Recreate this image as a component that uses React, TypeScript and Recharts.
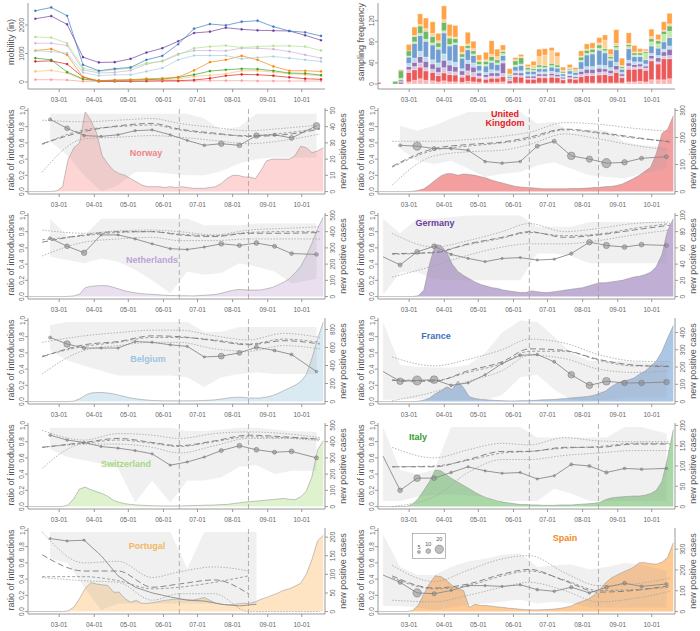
import React from 'react';
import { Area, Bar, ComposedChart, Line, ReferenceLine, XAxis, YAxis } from 'recharts';

// ---- shared axis data ----
const monthTicks = [60, 91, 121, 152, 182, 213, 244, 274];
const monthLabels = ['03-01', '04-01', '05-01', '06-01', '07-01', '08-01', '09-01', '10-01'];
const X_DOMAIN: [number, number] = [32.5, 294.5];
const ratioTicks = [0, 0.2, 0.4, 0.6, 0.8, 1.0];

// ---- mobility (top left) ----
const mobDays = [39, 53, 67, 81, 95, 109, 123, 137, 151, 165, 179, 193, 207, 221, 235, 249, 263, 277, 291];
const mobFR = [2500, 2616, 2325, 605, 395, 465, 512, 779, 919, 1326, 1872, 2035, 1988, 2116, 2151, 1942, 1791, 1744, 1616];
const mobDE = [2221, 2314, 2023, 872, 686, 698, 814, 1035, 1186, 1430, 1721, 1767, 1907, 1849, 1814, 1802, 1791, 1640, 1465];
const mobCH = [1581, 1558, 1360, 488, 372, 430, 488, 663, 721, 953, 1186, 1244, 1279, 1209, 1244, 1267, 1267, 1244, 1105];
const mobNL = [1360, 1360, 1279, 430, 314, 337, 407, 628, 744, 988, 1105, 1105, 1093, 1186, 1186, 1151, 1070, 953, 837];
const mobBE = [1093, 1070, 1012, 337, 221, 256, 256, 372, 488, 779, 930, 930, 930, 814, 860, 895, 837, 779, 721];
const mobES = [1105, 1163, 953, 174, 47, 70, 81, 116, 128, 174, 407, 698, 779, 919, 779, 547, 395, 395, 372];
const mobIT = [837, 779, 350, 105, 47, 58, 70, 81, 105, 163, 256, 384, 430, 465, 453, 395, 314, 302, 244];
const mobPT = [372, 407, 314, 81, 47, 47, 58, 81, 81, 105, 198, 233, 291, 395, 395, 349, 291, 256, 221];
const mobUK = [721, 744, 628, 174, 23, 23, 23, 35, 47, 47, 70, 128, 221, 267, 256, 221, 163, 116, 93];
const mobNO = [81, 81, 70, 23, 23, 23, 23, 23, 23, 23, 35, 47, 47, 47, 35, 35, 35, 35, 35];

// ---- sampling frequency (top right) ----
const barDays = [33, 48, 53, 60, 65, 70, 75, 81, 86, 91, 96, 101, 107, 112, 117, 122, 128, 133, 138, 143, 149, 154, 159, 165, 170, 175, 180, 186, 191, 196, 202, 207, 212, 217, 222, 228, 233, 238, 243, 248, 254, 259, 264, 269, 274, 280, 285, 290];
const sampES = [0, 0, 2, 12, 16, 20, 20, 22, 14, 26, 22, 22, 12, 22, 14, 10, 14, 26, 14, 10, 10, 4, 4, 4, 8, 14, 12, 6, 8, 6, 6, 4, 10, 10, 10, 10, 10, 10, 26, 14, 20, 12, 6, 3, 14, 10, 16, 20];
const sampPT = [0, 0, 0, 0, 2, 3, 5, 6, 4, 5, 4, 3, 3, 3, 4, 2, 3, 4, 6, 2, 1, 2, 2, 2, 6, 16, 20, 24, 16, 2, 2, 1, 2, 2, 2, 4, 16, 4, 4, 2, 2, 2, 2, 2, 4, 2, 2, 4];
const sampIT = [0, 5, 14, 10, 10, 14, 15, 12, 8, 16, 12, 8, 6, 5, 6, 6, 6, 8, 6, 4, 2, 8, 12, 4, 3, 4, 4, 4, 4, 3, 2, 2, 6, 6, 6, 6, 4, 4, 4, 3, 4, 4, 4, 3, 6, 6, 6, 10];
const sampCH = [0, 0, 3, 2, 3, 4, 4, 4, 4, 4, 3, 3, 2, 3, 3, 2, 3, 3, 3, 4, 2, 3, 3, 3, 2, 3, 2, 3, 2, 2, 2, 2, 3, 3, 3, 4, 4, 3, 4, 2, 4, 3, 3, 12, 8, 8, 14, 12];
const sampFR = [0, 0, 3, 12, 28, 30, 30, 28, 26, 40, 28, 34, 20, 20, 14, 10, 12, 14, 12, 10, 3, 8, 10, 6, 6, 6, 6, 8, 8, 4, 6, 5, 14, 22, 24, 28, 24, 14, 24, 6, 22, 10, 10, 8, 14, 14, 14, 16];
const sampBE = [0, 0, 0, 6, 8, 10, 8, 8, 8, 12, 8, 8, 4, 6, 8, 4, 4, 6, 4, 4, 2, 4, 4, 3, 3, 4, 4, 4, 4, 2, 3, 3, 4, 5, 5, 6, 6, 5, 6, 3, 5, 5, 4, 4, 4, 4, 5, 6];
const sampDE = [0, 0, 2, 6, 8, 12, 12, 10, 10, 14, 12, 10, 8, 14, 10, 6, 5, 6, 6, 20, 2, 4, 5, 4, 4, 4, 4, 4, 4, 3, 4, 3, 6, 8, 8, 8, 6, 6, 8, 4, 6, 5, 5, 4, 6, 8, 8, 12];
const sampNL = [0, 0, 0, 5, 6, 8, 6, 6, 6, 10, 6, 6, 4, 8, 8, 4, 4, 4, 4, 6, 1, 3, 3, 2, 2, 3, 3, 3, 2, 2, 2, 2, 4, 4, 4, 5, 5, 4, 5, 3, 6, 4, 4, 4, 4, 4, 5, 6];
const sampUK = [3, 0, 3, 18, 20, 22, 18, 16, 12, 15, 14, 13, 10, 12, 10, 8, 7, 8, 8, 10, 5, 12, 11, 8, 8, 10, 10, 11, 10, 7, 8, 8, 12, 14, 14, 15, 16, 14, 20, 10, 24, 24, 24, 22, 36, 30, 40, 38];
const sampNO = [0, 0, 0, 4, 7, 10, 7, 6, 4, 6, 4, 4, 3, 5, 4, 3, 2, 3, 3, 4, 1, 2, 2, 1, 1, 2, 2, 2, 2, 1, 2, 1, 2, 2, 2, 2, 2, 2, 2, 2, 4, 4, 5, 4, 8, 8, 8, 10];

// ---- new positive cases (every 5 days) ----
const caseDays = [33, 38, 43, 48, 53, 58, 63, 68, 73, 78, 83, 88, 93, 98, 103, 108, 113, 118, 123, 128, 133, 138, 143, 148, 153, 158, 163, 168, 173, 178, 183, 188, 193, 198, 203, 208, 213, 218, 223, 228, 233, 238, 243, 248, 253, 258, 263, 268, 273, 278, 283, 288, 293];
const casesNO = [0, 0, 0, 0, 0, 0.5, 3, 20, 27, 30, 49, 44, 36, 22, 17, 13, 11, 10, 8, 6, 4, 3, 3, 3, 2.5, 3, 2.5, 3, 2.5, 2, 2, 2, 2.5, 3, 5, 8, 10, 10, 9, 9, 8, 13, 19, 20, 20, 20, 20, 22, 28, 27, 24, 25, 27];
const casesUK = [0, 0, 0, 0, 0, 0, 1, 4, 10, 25, 42, 58, 66, 66, 60, 65, 63, 60, 55, 50, 42, 36, 31, 25, 20, 17, 15, 14, 12, 10, 10, 10, 10, 10, 11, 11, 12, 13, 15, 16, 18, 19, 22, 28, 38, 48, 60, 75, 90, 140, 215, 230, 280];
const casesNL = [0, 0, 0, 0, 0, 0, 0, 1, 4, 15, 55, 63, 66, 68, 66, 57, 46, 35, 28, 22, 18, 15, 13, 11, 8, 7, 6, 5, 5, 4, 6, 8, 10, 13, 20, 30, 38, 44, 42, 40, 40, 41, 48, 56, 72, 88, 110, 145, 185, 250, 330, 420, 490];
const casesDE = [0, 0, 0, 0, 0, 0, 0, 1, 8, 40, 64, 63, 55, 40, 31, 26, 22, 18, 15, 13, 11, 10, 8, 7, 6, 5, 5, 7, 6, 5, 5, 6, 7, 8, 9, 10, 11, 13, 15, 17, 17, 18, 19, 20, 22, 24, 25, 27, 30, 37, 52, 82, 96];
const casesBE = [0, 0, 0, 0, 0, 0, 0, 0, 5, 30, 70, 95, 100, 100, 95, 85, 70, 55, 40, 30, 22, 16, 12, 10, 8, 8, 8, 8, 8, 9, 10, 12, 15, 20, 28, 38, 45, 48, 45, 40, 38, 40, 50, 65, 90, 120, 150, 180, 220, 300, 480, 700, 880];
const casesFR = [0, 0, 0, 0, 0, 0, 0, 2, 8, 20, 45, 62, 85, 70, 118, 80, 28, 18, 12, 10, 8, 6, 5, 4, 4, 5, 5, 6, 8, 10, 11, 12, 15, 18, 21, 24, 26, 30, 36, 48, 60, 85, 105, 118, 125, 135, 158, 175, 205, 235, 290, 368, 440];
const casesCH = [0, 0, 0, 0, 0, 0, 1, 10, 50, 108, 120, 103, 92, 80, 63, 38, 26, 18, 13, 10, 8, 6, 5, 4, 4, 4, 4, 4, 5, 6, 7, 8, 9, 10, 12, 13, 18, 22, 27, 30, 33, 36, 40, 43, 46, 50, 45, 42, 60, 95, 185, 350, 405];
const casesIT = [0, 0, 0, 0, 0, 0, 6, 20, 40, 62, 90, 88, 78, 68, 60, 52, 44, 35, 28, 22, 18, 14, 11, 9, 7, 5, 5, 4, 4, 3, 3, 3, 4, 4, 4, 5, 6, 7, 8, 10, 17, 21, 23, 24, 25, 26, 26, 28, 32, 40, 62, 120, 190];
const casesPT = [0, 0, 0, 0, 0, 0, 0, 2, 12, 35, 62, 78, 74, 72, 70, 52, 52, 35, 25, 30, 22, 22, 24, 27, 30, 32, 34, 33, 32, 31, 34, 38, 30, 23, 20, 18, 19, 21, 22, 22, 26, 33, 38, 44, 50, 57, 61, 68, 76, 100, 140, 190, 205];
const casesES = [0, 0, 0, 0, 0, 0, 5, 30, 85, 135, 172, 168, 150, 125, 110, 101, 20, 35, 29, 29, 26, 22, 20, 16, 14, 11, 9, 8, 8, 9, 10, 12, 15, 20, 27, 40, 50, 60, 78, 105, 137, 160, 175, 188, 200, 213, 235, 235, 230, 228, 237, 260, 330];

// ---- ratio of introductions, half-monthly ----
const halfMonthDays = [52, 67, 82, 97, 112, 127, 142, 158, 173, 188, 203, 219, 234, 250, 265, 287];
const halfMonthDaysEarly = [37, 52, 67, 82, 97, 112, 127, 142, 158, 173, 188, 203, 219, 234, 250, 265, 287];
const halfMonthDaysPT = [52, 67, 82, 97, 112, 127, 142, 158, 173, 188, 203, 219, 234];
const trendDays = [45, 82, 112, 142, 166, 197, 227, 258, 290];

const ratioNO = [0.89, 0.78, 0.69, 0.68, 0.7, 0.75, 0.76, 0.7, 0.63, 0.57, 0.59, 0.57, 0.69, 0.7, 0.66, 0.81];
const seqNO = [5, 10, 4, 3, 3, 3, 3, 3, 3, 4, 12, 10, 12, 6, 10, 15];
const bandHiNO = [0.96, 0.96, 0.96, 0.96, 0.96, 0.96, 0.96, 0.96, 0.96, 0.9, 0.76, 0.8, 0.96, 0.96, 0.96, 0.96];
const bandLoNO = [0.62, 0.45, 0.2, 0.0, 0.08, 0.24, 0.24, 0.22, 0.2, 0.2, 0.25, 0.35, 0.4, 0.42, 0.42, 0.42];
const fitNO = [0.59, 0.74, 0.81, 0.84, 0.77, 0.72, 0.68, 0.7, 0.77];
const fit2NO = [0.58, 0.76, 0.8, 0.82, 0.76, 0.71, 0.69, 0.72, 0.78];
const ciHiNO = [0.88, 0.86, 0.88, 0.9, 0.84, 0.79, 0.75, 0.78, 0.82];
const ciLoNO = [0.24, 0.65, 0.67, 0.69, 0.67, 0.63, 0.59, 0.63, 0.71];

const ratioUK = [0.57, 0.56, 0.53, 0.53, 0.51, 0.37, 0.35, 0.37, 0.56, 0.62, 0.44, 0.4, 0.35, 0.36, 0.41, 0.43];
const seqUK = [5, 20, 8, 4, 4, 4, 4, 4, 8, 8, 18, 14, 22, 12, 8, 8];
const bandHiUK = [0.81, 0.75, 0.81, 0.9, 0.98, 0.98, 0.98, 0.98, 0.84, 0.86, 0.73, 0.77, 0.75, 0.61, 0.57, 0.55];
const bandLoUK = [0.53, 0.38, 0.34, 0.38, 0.28, 0.18, 0.22, 0.24, 0.32, 0.36, 0.28, 0.2, 0.18, 0.16, 0.22, 0.28];
const fitUK = [0.31, 0.53, 0.58, 0.61, 0.67, 0.77, 0.73, 0.67, 0.61];
const fit2UK = [0.3, 0.51, 0.56, 0.6, 0.65, 0.76, 0.72, 0.66, 0.62];
const ciHiUK = [0.62, 0.62, 0.64, 0.68, 0.73, 0.85, 0.83, 0.78, 0.74];
const ciLoUK = [0.08, 0.44, 0.49, 0.51, 0.58, 0.71, 0.65, 0.57, 0.51];

const ratioNL = [0.72, 0.62, 0.54, 0.76, 0.76, 0.71, 0.65, 0.59, 0.58, 0.61, 0.65, 0.63, 0.66, 0.62, 0.53, 0.52];
const seqNL = [5, 10, 12, 3, 3, 3, 3, 3, 3, 3, 10, 8, 10, 8, 7, 7];
const bandHiNL = [0.96, 0.75, 0.75, 0.96, 0.96, 0.96, 0.96, 0.96, 0.96, 0.88, 0.88, 0.88, 0.9, 0.9, 0.9, 0.9];
const bandLoNL = [0.49, 0.45, 0.41, 0.47, 0.43, 0.33, 0.2, 0.04, 0.31, 0.27, 0.29, 0.41, 0.37, 0.31, 0.16, 0.22];
const fitNL = [0.67, 0.76, 0.8, 0.8, 0.76, 0.74, 0.78, 0.78, 0.79];
const fit2NL = [0.7, 0.75, 0.79, 0.8, 0.77, 0.75, 0.79, 0.8, 0.8];
const ciHiNL = [0.82, 0.78, 0.81, 0.82, 0.8, 0.76, 0.82, 0.84, 0.86];
const ciLoNL = [0.5, 0.67, 0.71, 0.73, 0.69, 0.69, 0.71, 0.71, 0.71];

const ratioDE = [0.49, 0.39, 0.55, 0.62, 0.52, 0.47, 0.43, 0.47, 0.48, 0.45, 0.46, 0.53, 0.67, 0.63, 0.61, 0.64, 0.63];
const seqDE = [0, 8, 10, 10, 4, 3, 3, 3, 3, 3, 3, 6, 12, 14, 10, 10, 8];
const bandHiDE = [0.96, 0.78, 0.96, 0.96, 0.98, 1.0, 1.0, 1.0, 1.0, 0.86, 0.86, 0.86, 0.92, 0.92, 0.92, 0.92, 0.92];
const bandLoDE = [0.02, 0.3, 0.3, 0.22, 0.2, 0.2, 0.2, 0.2, 0.2, 0.53, 0.53, 0.5, 0.41, 0.41, 0.41, 0.41, 0.41];
const fitDE = [0.53, 0.54, 0.65, 0.73, 0.8, 0.73, 0.76, 0.82, 0.88];
const fit2DE = [0.52, 0.55, 0.64, 0.72, 0.79, 0.75, 0.77, 0.84, 0.9];
const ciHiDE = [0.78, 0.61, 0.69, 0.8, 0.9, 0.8, 0.84, 0.9, 0.92];
const ciLoDE = [0.24, 0.38, 0.51, 0.61, 0.65, 0.65, 0.69, 0.76, 0.82];

const ratioBE = [0.79, 0.71, 0.66, 0.66, 0.66, 0.74, 0.73, 0.7, 0.68, 0.55, 0.56, 0.6, 0.67, 0.63, 0.58, 0.37];
const seqBE = [5, 15, 6, 3, 3, 3, 3, 3, 3, 3, 13, 10, 8, 5, 5, 4];
const bandHiBE = [0.94, 0.98, 0.98, 0.98, 0.98, 0.98, 0.98, 0.98, 0.98, 0.86, 0.86, 0.92, 0.92, 0.92, 0.92, 0.92];
const bandLoBE = [0.63, 0.51, 0.44, 0.38, 0.32, 0.32, 0.32, 0.32, 0.3, 0.18, 0.3, 0.34, 0.36, 0.34, 0.34, 0.34];
const fitBE = [0.55, 0.7, 0.74, 0.81, 0.8, 0.75, 0.7, 0.75, 0.71];
const fit2BE = [0.56, 0.68, 0.73, 0.79, 0.79, 0.76, 0.71, 0.77, 0.73];
const ciHiBE = [0.73, 0.81, 0.85, 0.88, 0.88, 0.81, 0.76, 0.84, 0.79];
const ciLoBE = [0.34, 0.63, 0.69, 0.73, 0.73, 0.65, 0.62, 0.69, 0.65];

const ratioFR = [0.37, 0.25, 0.26, 0.27, 0.2, 0.23, 0.33, 0.47, 0.57, 0.58, 0.49, 0.33, 0.2, 0.25, 0.23, 0.23, 0.24];
const seqFR = [0, 15, 22, 18, 4, 3, 3, 3, 4, 4, 5, 15, 15, 18, 12, 12, 12];
const bandHiFR = [0.98, 0.45, 0.43, 0.42, 0.42, 0.45, 0.6, 0.85, 1.0, 0.98, 0.8, 0.6, 0.5, 0.5, 0.5, 0.48, 0.47];
const bandLoFR = [0.02, 0.03, 0.03, 0.02, 0.02, 0.02, 0.02, 0.08, 0.3, 0.33, 0.15, 0.02, 0.02, 0.02, 0.05, 0.05, 0.05];
const fitFR = [0.26, 0.25, 0.38, 0.49, 0.65, 0.63, 0.52, 0.45, 0.43];
const fit2FR = [0.27, 0.26, 0.36, 0.47, 0.62, 0.62, 0.51, 0.44, 0.44];
const ciHiFR = [0.55, 0.44, 0.52, 0.64, 0.77, 0.72, 0.58, 0.5, 0.49];
const ciLoFR = [0.01, 0.12, 0.25, 0.38, 0.57, 0.53, 0.4, 0.36, 0.38];

const ratioCH = [0.88, 0.82, 0.79, 0.74, 0.72, 0.69, 0.65, 0.51, 0.55, 0.61, 0.69, 0.75, 0.7, 0.67, 0.68, 0.6];
const seqCH = [4, 4, 4, 3, 3, 3, 3, 3, 3, 3, 8, 10, 10, 8, 10, 8];
const bandHiCH = [0.97, 0.97, 0.97, 0.97, 0.97, 0.97, 0.97, 0.97, 0.93, 0.93, 0.95, 0.97, 0.97, 0.95, 0.93, 0.92];
const bandLoCH = [0.71, 0.61, 0.57, 0.53, 0.47, 0.05, 0.32, 0.05, 0.32, 0.32, 0.36, 0.49, 0.51, 0.4, 0.44, 0.44];
const fitCH = [0.73, 0.79, 0.84, 0.79, 0.75, 0.81, 0.88, 0.86, 0.83];
const fit2CH = [0.73, 0.78, 0.82, 0.78, 0.74, 0.8, 0.86, 0.85, 0.83];
const ciHiCH = [0.94, 0.82, 0.9, 0.88, 0.84, 0.9, 0.92, 0.9, 0.85];
const ciLoCH = [0.47, 0.77, 0.77, 0.73, 0.66, 0.75, 0.84, 0.84, 0.81];

const ratioIT = [0.62, 0.2, 0.35, 0.35, 0.42, 0.49, 0.44, 0.41, 0.42, 0.34, 0.38, 0.52, 0.5, 0.42, 0.47, 0.46, 0.47];
const seqIT = [0, 10, 15, 10, 4, 3, 3, 3, 3, 3, 3, 5, 5, 6, 4, 4, 4];
const bandHiIT = [0.98, 0.45, 0.4, 0.45, 0.98, 0.98, 0.98, 0.98, 0.98, 0.85, 0.85, 0.85, 0.85, 0.85, 0.98, 0.98, 0.9];
const bandLoIT = [0.07, 0.07, 0.12, 0.14, 0.15, 0.14, 0.12, 0.07, 0.07, 0.07, 0.22, 0.16, 0.07, 0.07, 0.07, 0.07, 0.07];
const fitIT = [0.49, 0.49, 0.58, 0.68, 0.68, 0.73, 0.73, 0.77, 0.77];
const fit2IT = [0.49, 0.5, 0.57, 0.66, 0.68, 0.72, 0.74, 0.78, 0.78];
const ciHiIT = [0.73, 0.6, 0.7, 0.78, 0.76, 0.85, 0.81, 0.8, 0.8];
const ciLoIT = [0.0, 0.12, 0.42, 0.58, 0.58, 0.63, 0.66, 0.69, 0.69];

const ratioPT = [0.9, 0.87, 0.88, 0.69, 0.44, 0.3, 0.23, 0.18, 0.14, 0.13, 0.09, 0.07, 0.09];
const seqPT = [3, 3, 3, 0, 0, 0, 0, 0, 0, 0, 0, 0, 0];
const bandHiPT = [0.98, 0.98, 0.98, 0.98, 0.98, 0.98, 0.98, 0.98, 0.53, 0.98, 0.98, 0.98, 0.98];
const bandLoPT = [0.65, 0.6, 0.3, 0.02, 0.1, 0.1, 0.1, 0.1, 0.1, 0.1, 0.1, 0.1, 0.1];
const fitPT = [0.7, 0.5, 0.5, 0.3, 0.34, 0.39, 0.22, null, null];
const fit2PT = [0.43, 0.43, 0.38, 0.28, 0.3, 0.36, 0.44, null, null];
const ciHiPT = [0.98, 0.6, 0.62, 0.42, 0.49, 0.55, 0.5, null, null];
const ciLoPT = [0.42, 0.38, 0.36, 0.14, 0.22, 0.22, 0.0, 0.0, 0.0];

const ratioES = [0.45, 0.36, 0.23, 0.22, 0.26, 0.32, 0.32, 0.31, 0.33, 0.27, 0.25, 0.3, 0.23, 0.3, 0.35, 0.31, 0.34];
const seqES = [0, 8, 20, 8, 3, 3, 3, 3, 3, 4, 4, 6, 4, 7, 7, 5, 5];
const bandHiES = [0.95, 0.55, 0.45, 0.45, 0.55, 0.62, 0.65, 0.7, 0.72, 0.55, 0.57, 0.58, 0.52, 0.55, 0.6, 0.58, 0.5];
const bandLoES = [0.07, 0.07, 0.05, 0.02, 0.05, 0.08, 0.1, 0.12, 0.15, 0.1, 0.12, 0.1, 0.05, 0.05, 0.05, 0.05, 0.05];
const fitES = [0.44, 0.29, 0.34, 0.46, 0.52, 0.38, 0.24, 0.26, 0.32];
const fit2ES = [0.42, 0.28, 0.32, 0.44, 0.5, 0.39, 0.26, 0.27, 0.3];
const ciHiES = [0.57, 0.37, 0.51, 0.65, 0.69, 0.48, 0.32, 0.34, 0.41];
const ciLoES = [0.14, 0.12, 0.2, 0.3, 0.36, 0.26, 0.12, 0.16, 0.25];

const legendSizes = [5, 10, 20];

// ---- styling ----
const FONT = '"Liberation Sans", Arial, Helvetica, sans-serif';
const AX = '#9a9a9a';
const TXT = '#666';
const PAL: Record<string, string> = {
  no: '#fb9a99', uk: '#e31a1c', nl: '#cab2d6', de: '#6a3d9a', be: '#a6cee3',
  fr: '#3a78c0', ch: '#b2df8a', it: '#33a02c', pt: '#fdbf6f', es: '#ff7f00',
};
const STACK = ['no', 'uk', 'nl', 'de', 'be', 'fr', 'ch', 'it', 'pt', 'es'];
const MOB_ORDER = ['no', 'uk', 'pt', 'it', 'es', 'be', 'nl', 'ch', 'de', 'fr'];

const dotRadius = (n: number) => 0.6 + n * 0.18;
const fmtMonth = (v: number) => monthLabels[monthTicks.indexOf(v)] ?? '';

function vTick(side: 'l' | 'r', fmt: (v: number) => string) {
  return (p: any) => {
    const x = side === 'l' ? p.x + 1.5 : p.x + 5;
    const y = p.y;
    return (
      <text x={x} y={y} transform={`rotate(-90 ${x} ${y})`} textAnchor="middle"
        fontSize={6.5} fill={TXT} fontFamily={FONT}>
        {fmt(p.payload.value)}
      </text>
    );
  };
}

const renderDot = (p: any) => {
  const n = p.payload?.n ?? 0;
  if (!n || p.cx == null || p.cy == null) return <g key={`d${p.index}`} />;
  return (
    <circle key={`d${p.index}`} cx={p.cx} cy={p.cy} r={dotRadius(n)}
      fill="#8a8a8a" fillOpacity={0.55} stroke="#707070" strokeWidth={0.5} />
  );
};

function xAxis() {
  return (
    <XAxis dataKey="d" type="number" domain={X_DOMAIN} allowDataOverflow ticks={monthTicks}
      interval={0} tickFormatter={fmtMonth} tick={{ fontSize: 6.5, fill: TXT, fontFamily: FONT }}
      tickSize={3} tickMargin={5} height={16} stroke={AX} />
  );
}

type Country = {
  key: string; name: string[]; color: string; labelColor: string;
  col: number; row: number; lx: number; ly: number;
  cases: number[]; rMax: number; rTicks: number[];
  days: number[]; ratio: number[]; seq: number[]; lo: number[]; hi: number[];
  fit: (number | null)[]; fit2: (number | null)[]; ciHi: (number | null)[]; ciLo: (number | null)[];
};

const COUNTRIES: Country[] = [
  { key: 'no', name: ['Norway'], color: PAL.no, labelColor: '#ef8584', col: 0, row: 1, lx: 146, ly: 153,
    cases: casesNO, rMax: 50, rTicks: [0, 10, 20, 30, 40, 50], days: halfMonthDays, ratio: ratioNO, seq: seqNO,
    lo: bandLoNO, hi: bandHiNO, fit: fitNO, fit2: fit2NO, ciHi: ciHiNO, ciLo: ciLoNO },
  { key: 'uk', name: ['United', 'Kingdom'], color: PAL.uk, labelColor: '#e31a1c', col: 1, row: 1, lx: 505, ly: 119,
    cases: casesUK, rMax: 300, rTicks: [0, 100, 200, 300], days: halfMonthDays, ratio: ratioUK, seq: seqUK,
    lo: bandLoUK, hi: bandHiUK, fit: fitUK, fit2: fit2UK, ciHi: ciHiUK, ciLo: ciLoUK },
  { key: 'nl', name: ['Netherlands'], color: PAL.nl, labelColor: '#bea2d6', col: 0, row: 2, lx: 152, ly: 260,
    cases: casesNL, rMax: 500, rTicks: [0, 100, 200, 300, 400, 500], days: halfMonthDays, ratio: ratioNL, seq: seqNL,
    lo: bandLoNL, hi: bandHiNL, fit: fitNL, fit2: fit2NL, ciHi: ciHiNL, ciLo: ciLoNL },
  { key: 'de', name: ['Germany'], color: PAL.de, labelColor: '#6a3d9a', col: 1, row: 2, lx: 435, ly: 223,
    cases: casesDE, rMax: 100, rTicks: [0, 20, 40, 60, 80, 100], days: halfMonthDaysEarly, ratio: ratioDE, seq: seqDE,
    lo: bandLoDE, hi: bandHiDE, fit: fitDE, fit2: fit2DE, ciHi: ciHiDE, ciLo: ciLoDE },
  { key: 'be', name: ['Belgium'], color: PAL.be, labelColor: '#9cc4e0', col: 0, row: 3, lx: 148, ly: 359,
    cases: casesBE, rMax: 900, rTicks: [0, 200, 400, 600, 800], days: halfMonthDays, ratio: ratioBE, seq: seqBE,
    lo: bandLoBE, hi: bandHiBE, fit: fitBE, fit2: fit2BE, ciHi: ciHiBE, ciLo: ciLoBE },
  { key: 'fr', name: ['France'], color: PAL.fr, labelColor: '#3f70bd', col: 1, row: 3, lx: 436, ly: 336,
    cases: casesFR, rMax: 470, rTicks: [0, 100, 200, 300, 400], days: halfMonthDaysEarly, ratio: ratioFR, seq: seqFR,
    lo: bandLoFR, hi: bandHiFR, fit: fitFR, fit2: fit2FR, ciHi: ciHiFR, ciLo: ciLoFR },
  { key: 'ch', name: ['Switzerland'], color: PAL.ch, labelColor: '#a8d882', col: 0, row: 4, lx: 126, ly: 464,
    cases: casesCH, rMax: 500, rTicks: [0, 100, 200, 300, 400, 500], days: halfMonthDays, ratio: ratioCH, seq: seqCH,
    lo: bandLoCH, hi: bandHiCH, fit: fitCH, fit2: fit2CH, ciHi: ciHiCH, ciLo: ciLoCH },
  { key: 'it', name: ['Italy'], color: PAL.it, labelColor: '#3a9a30', col: 1, row: 4, lx: 418, ly: 437,
    cases: casesIT, rMax: 200, rTicks: [0, 50, 100, 150, 200], days: halfMonthDaysEarly, ratio: ratioIT, seq: seqIT,
    lo: bandLoIT, hi: bandHiIT, fit: fitIT, fit2: fit2IT, ciHi: ciHiIT, ciLo: ciLoIT },
  { key: 'pt', name: ['Portugal'], color: PAL.pt, labelColor: '#f5b665', col: 0, row: 5, lx: 147, ly: 546,
    cases: casesPT, rMax: 218, rTicks: [0, 50, 100, 150, 200], days: halfMonthDaysPT, ratio: ratioPT, seq: seqPT,
    lo: bandLoPT, hi: bandHiPT, fit: fitPT, fit2: fit2PT, ciHi: ciHiPT, ciLo: ciLoPT },
  { key: 'es', name: ['Spain'], color: PAL.es, labelColor: '#f58a1f', col: 1, row: 5, lx: 565, ly: 538,
    cases: casesES, rMax: 390, rTicks: [0, 100, 200, 300], days: halfMonthDaysEarly, ratio: ratioES, seq: seqES,
    lo: bandLoES, hi: bandHiES, fit: fitES, fit2: fit2ES, ciHi: ciHiES, ciLo: ciLoES },
];

function CountryPanel({ c }: { c: Country }) {
  const caseRows = caseDays.map((d, i) => ({ d, cases: c.cases[i] }));
  const pointRows = c.days.map((d, i) => ({ d, ratio: c.ratio[i], n: c.seq[i], band: [c.lo[i], c.hi[i]] }));
  const trendRows = trendDays.map((d, i) => ({ d, fit: c.fit[i], fit2: c.fit2[i], ciHi: c.ciHi[i], ciLo: c.ciLo[i] }));
  return (
    <div style={{ position: 'absolute', left: c.col * 350, top: c.row * 105 }}>
      <ComposedChart width={350} height={105} data={caseRows} margin={{ top: 3, right: 0, bottom: 0, left: 0 }}>
        {xAxis()}
        <YAxis yAxisId="l" type="number" domain={[-0.03, 1.03]} allowDataOverflow ticks={ratioTicks}
          interval={0} width={28} tickSize={3} stroke={AX} tick={vTick('l', (v) => v.toFixed(1))} />
        <YAxis yAxisId="r" orientation="right" type="number" domain={[-0.03 * c.rMax, 1.03 * c.rMax]}
          allowDataOverflow ticks={c.rTicks} interval={0} width={25} tickSize={3} stroke={AX}
          tick={vTick('r', (v) => String(v))} />
        <Area yAxisId="r" data={caseRows} dataKey="cases" type="linear" baseValue={0} fill={c.color}
          fillOpacity={0.42} stroke="#8a8a8a" strokeWidth={0.5} isAnimationActive={false} />
        <Area yAxisId="l" data={pointRows} dataKey="band" type="linear" fill="#9a9a9a" fillOpacity={0.15}
          stroke="none" isAnimationActive={false} />
        <ReferenceLine yAxisId="l" x={166} stroke="#a0a0a0" strokeDasharray="5 3" strokeWidth={0.8} />
        <ReferenceLine yAxisId="l" x={227} stroke="#a0a0a0" strokeDasharray="5 3" strokeWidth={0.8} />
        <Line yAxisId="l" data={trendRows} dataKey="ciHi" type="monotone" stroke="#a3a3a3" strokeWidth={0.8}
          strokeDasharray="1.5 1.5" dot={false} activeDot={false} isAnimationActive={false} />
        <Line yAxisId="l" data={trendRows} dataKey="ciLo" type="monotone" stroke="#a3a3a3" strokeWidth={0.8}
          strokeDasharray="1.5 1.5" dot={false} activeDot={false} isAnimationActive={false} />
        <Line yAxisId="l" data={trendRows} dataKey="fit2" type="monotone" stroke="#8c8c8c" strokeWidth={0.8}
          strokeDasharray="3 2" dot={false} activeDot={false} isAnimationActive={false} />
        <Line yAxisId="l" data={trendRows} dataKey="fit" type="monotone" stroke="#7a7a7a" strokeWidth={0.9}
          strokeDasharray="6 3" dot={false} activeDot={false} isAnimationActive={false} />
        <Line yAxisId="l" data={pointRows} dataKey="ratio" type="linear" stroke="#8a8a8a" strokeWidth={0.9}
          dot={renderDot} activeDot={false} isAnimationActive={false} />
      </ComposedChart>
    </div>
  );
}

function MobilityPanel() {
  const rows = mobDays.map((d, i) => ({
    d, no: mobNO[i], uk: mobUK[i], nl: mobNL[i], de: mobDE[i], be: mobBE[i],
    fr: mobFR[i], ch: mobCH[i], it: mobIT[i], pt: mobPT[i], es: mobES[i],
  }));
  return (
    <div style={{ position: 'absolute', left: 0, top: 0 }}>
      <ComposedChart width={350} height={105} data={rows} margin={{ top: 3, right: 25, bottom: 0, left: 0 }}>
        {xAxis()}
        <YAxis type="number" domain={[-245, 2773]} allowDataOverflow ticks={[0, 1000, 2000]} interval={0}
          width={28} tickSize={3} stroke={AX} tick={vTick('l', (v) => String(v))} />
        {MOB_ORDER.map((k) => (
          <Line key={k} dataKey={k} type="linear" stroke={PAL[k]} strokeWidth={0.8} strokeOpacity={0.85}
            dot={{ r: 1.1, fill: PAL[k], stroke: PAL[k], strokeWidth: 0.3 }} activeDot={false}
            isAnimationActive={false} />
        ))}
      </ComposedChart>
    </div>
  );
}

function SamplingPanel() {
  const rows = barDays.map((d, i) => ({
    d, no: sampNO[i], uk: sampUK[i], nl: sampNL[i], de: sampDE[i], be: sampBE[i],
    fr: sampFR[i], ch: sampCH[i], it: sampIT[i], pt: sampPT[i], es: sampES[i],
  }));
  return (
    <div style={{ position: 'absolute', left: 350, top: 0 }}>
      <ComposedChart width={350} height={105} data={rows} barSize={5}
        margin={{ top: 3, right: 25, bottom: 0, left: 0 }}>
        {xAxis()}
        <YAxis type="number" domain={[-9.5, 153.6]} allowDataOverflow ticks={[0, 40, 80, 120]} interval={0}
          width={28} tickSize={3} stroke={AX} tick={vTick('l', (v) => String(v))} />
        {STACK.map((k) => (
          <Bar key={k} dataKey={k} stackId="s" fill={PAL[k]} fillOpacity={0.72} stroke="#ffffff"
            strokeWidth={0.3} isAnimationActive={false} />
        ))}
      </ComposedChart>
    </div>
  );
}

function VTitle({ x, y, text }: { x: number; y: number; text: string }) {
  return (
    <div style={{
      position: 'absolute', left: x, top: y, transform: 'translate(-50%, -50%) rotate(-90deg)',
      fontSize: 9, color: '#555', whiteSpace: 'nowrap', lineHeight: 1, fontFamily: FONT,
    }}>
      {text}
    </div>
  );
}

function SizeLegend() {
  const xs = [7, 16.3, 27.3];
  const labelY = [13.7, 11.3, 6.3];
  return (
    <svg width={34} height={26} style={{ position: 'absolute', left: 412, top: 533 }}>
      <rect x={0.5} y={0.5} width={33} height={25} fill="#ffffff" stroke="#8a8a8a" strokeWidth={0.6} />
      {legendSizes.map((n, i) => (
        <g key={n}>
          <circle cx={xs[i]} cy={24 - 4.7 - dotRadius(n) + 1.2} r={dotRadius(n)} fill="#8a8a8a"
            fillOpacity={0.55} stroke="#707070" strokeWidth={0.5} />
          <text x={xs[i]} y={labelY[i] + 2} textAnchor="middle" fontSize={5.5} fill="#555"
            fontFamily={FONT}>{n}</text>
        </g>
      ))}
    </svg>
  );
}

export default function App() {
  return (
    <div style={{ position: 'absolute', left: 0, top: 0, width: 700, height: 631, background: '#fff', fontFamily: FONT }}>
      <MobilityPanel />
      <SamplingPanel />
      {COUNTRIES.map((c) => <CountryPanel key={c.key} c={c} />)}
      <VTitle x={10.5} y={42} text="mobility (in)" />
      <VTitle x={360.5} y={42} text="sampling frequency" />
      {COUNTRIES.map((c) => (
        <React.Fragment key={`t${c.key}`}>
          <VTitle x={c.col * 350 + 10.5} y={c.row * 105 + 45} text="ratio of introductions" />
          <VTitle x={c.col * 350 + 342.5} y={c.row * 105 + 46} text="new positive cases" />
        </React.Fragment>
      ))}
      {COUNTRIES.map((c) => (
        <div key={`n${c.key}`} style={{
          position: 'absolute', left: c.lx, top: c.ly, transform: 'translate(-50%, -50%)',
          color: c.labelColor, fontWeight: 700, fontSize: 9, lineHeight: '9px', textAlign: 'center',
          whiteSpace: 'nowrap', fontFamily: FONT,
        }}>
          {c.name.map((s) => <div key={s}>{s}</div>)}
        </div>
      ))}
      <SizeLegend />
    </div>
  );
}
